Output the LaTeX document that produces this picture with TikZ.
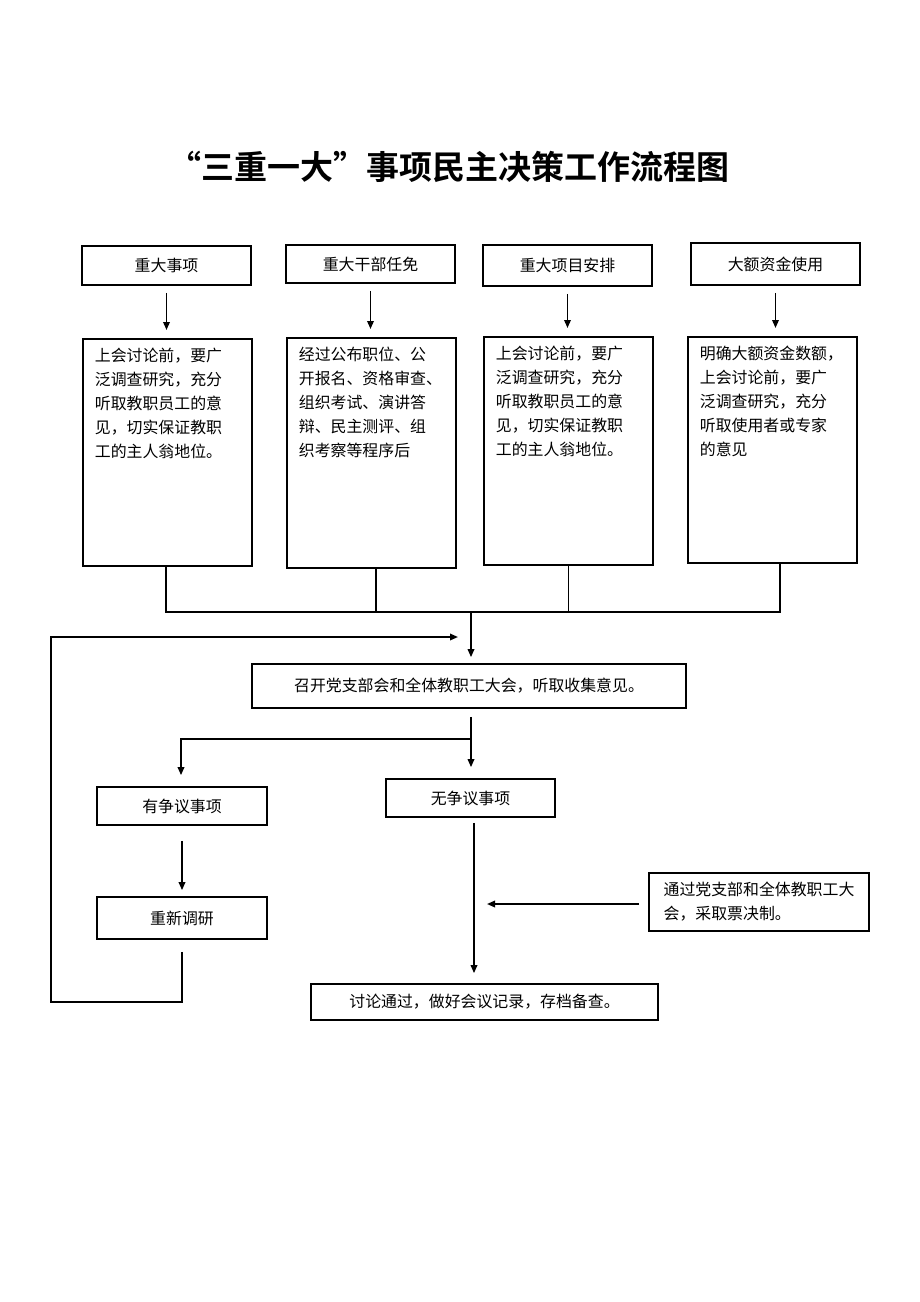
\documentclass[tikz,border=0pt]{standalone}
\usepackage{fontspec}
\setmainfont{Noto Sans CJK SC}
\newfontfamily\titlefont{Noto Sans CJK SC Bold}
\usetikzlibrary{arrows.meta}
\newcommand\bodyfs{\fontsize{15.9pt}{24pt}\selectfont}
\newcommand\boxtext[2]{\parbox[t][#1][t]{145pt}{\bodyfs\raggedright #2}}
\begin{document}
\begin{tikzpicture}[x=1pt,y=-1pt,
  box/.style={draw, line width=1.7pt, inner sep=0pt, font=\bodyfs, align=center},
  tbox/.style={draw, line width=1.7pt, inner xsep=12pt, inner ysep=9pt, anchor=north west},
  ln/.style={line width=1.7pt},
  arr/.style={ln, -{Triangle[length=8pt,width=6.5pt]}}]
\useasboundingbox (0,0) rectangle (920,1302);
\fill[white] (0,0) rectangle (920,1302);

\node[font=\titlefont\fontsize{33pt}{40pt}\selectfont] (title) at (449,167) {“三重一大”事项民主决策工作流程图};

% top row
\node[box, minimum width=169pt, minimum height=39pt] (a1) at (166.5,265.5) {重大事项};
\node[box, minimum width=169pt, minimum height=38pt] (a2) at (370.5,264) {重大干部任免};
\node[box, minimum width=169pt, minimum height=41pt] (a3) at (567.5,265.5) {重大项目安排};
\node[box, minimum width=169pt, minimum height=42pt] (a4) at (775.5,264) {大额资金使用};

% text boxes
\node[tbox] (b1) at (82,338) {\boxtext{209pt}{上会讨论前，要广\\泛调查研究，充分\\听取教职员工的意\\见，切实保证教职\\工的主人翁地位。}};
\node[tbox] (b2) at (286,337) {\boxtext{212pt}{经过公布职位、公\\开报名、资格审查、\\组织考试、演讲答\\辩、民主测评、组\\织考察等程序后}};
\node[tbox] (b3) at (483,336) {\boxtext{210pt}{上会讨论前，要广\\泛调查研究，充分\\听取教职员工的意\\见，切实保证教职\\工的主人翁地位。}};
\node[tbox] (b4) at (687,336) {\boxtext{208pt}{明确大额资金数额，\\上会讨论前，要广\\泛调查研究，充分\\听取使用者或专家\\的意见}};

\foreach \i in {1,2,3,4}
  \draw[arr, shorten <=7pt, shorten >=8pt] (a\i.south) -- (a\i.south |- b\i.north);

% merge
\coordinate (j) at (471,612);
\draw[ln] ([xshift=-1.5pt]b1.south) |- ([xshift=7.5pt]b4.south |- j) -- ([xshift=7.5pt]b4.south);
\draw[ln] ([xshift=4.5pt]b2.south) -- ([xshift=4.5pt]b2.south |- j);
\draw[ln] (b3.south) -- (b3.south |- j);

\node[box, minimum width=434pt, minimum height=44pt] (c) at (469,686) {召开党支部会和全体教职工大会，听取收集意见。};
\draw[arr, shorten >=6pt] (j) -- (j |- c.north);

\node[box, minimum width=170pt, minimum height=38pt] (d1) at (182,806) {有争议事项};
\node[box, minimum width=169pt, minimum height=38pt] (d2) at (470.5,798) {无争议事项};
\node[box, minimum width=170pt, minimum height=42pt] (e1) at (182,918) {重新调研};
\node[box, minimum width=347pt, minimum height=36pt] (g) at (484.5,1002) {讨论通过，做好会议记录，存档备查。};
\node[draw, line width=1.7pt, minimum width=220pt, minimum height=58pt, inner xsep=12pt, inner ysep=0pt, font=\bodyfs, align=left] (f) at (759,902) {通过党支部和全体教职工大\\会，采取票决制。};

% split
\coordinate (k) at (471,739);
\draw[ln, shorten <=8pt] (c.south -| j) -- (k);
\draw[arr, shorten >=11pt] (k) -- (k |- d2.north);
\draw[arr, shorten >=11pt] (k) -| ([xshift=-1pt]d1.north);

\draw[arr, shorten <=15pt, shorten >=6pt] (d1.south) -- (e1.north);
\draw[arr, shorten <=5pt, shorten >=10pt] ([xshift=3.5pt]d2.south) -- ([xshift=3.5pt]d2.south |- g.north);

\coordinate (fm) at (487,904);
\draw[arr, shorten <=9pt] (f.west |- fm) -- (fm);

% loop back
\coordinate (lb) at (51,1002);
\coordinate (lt) at (51,637);
\coordinate (le) at (458,637);
\draw[arr, shorten <=12pt] (e1.south) |- (lb) -- (lt) -- (le);
\end{tikzpicture}
\end{document}
